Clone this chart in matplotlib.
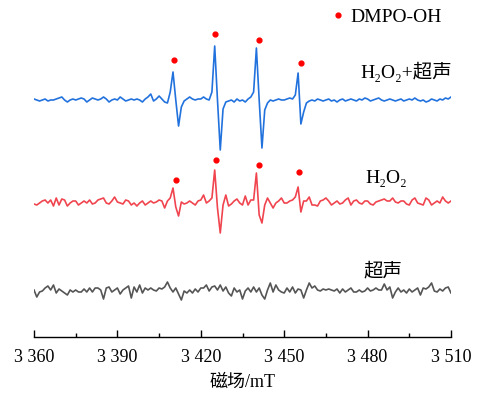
import numpy as np
import matplotlib
matplotlib.use('Agg')
import matplotlib.pyplot as plt
from matplotlib.ticker import MultipleLocator, FuncFormatter

plt.rcParams['font.family'] = ['Liberation Serif', 'DejaVu Serif', 'Noto Sans CJK SC']

# magnetic field grid (1 mT step), spectra
field = np.arange(3360, 3511)

h2o2_us = [1, 0, -1, 0, 1, -1, 0, 0, 1, 2,
           3, 0, -2, 0, 1, 0, 1, 2, 1, -2,
           0, 2, 1, 0, 1, 3, 1, -2, 0, 1,
           0, 3, 1, -1, 0, 1, 0, 1, 0, -2,
           1, 3, 6, -1, 1, 4, 1, -2, -3, 8,
           28, 0, -26, -7, -1, 1, 3, 1, 0, 1,
           1, 3, 1, 0, 8, 54, 0, -50, -9, -2,
           -1, 0, -2, 1, -1, 0, -2, 1, 3, 8,
           52, 0, -48, -10, -3, 0, -1, 0, 1, 0,
           0, 1, 2, 1, 5, 27, -24, -12, -3, -1,
           0, -1, 1, 0, -1, 0, 1, -1, 0, -2,
           0, 1, -1, 0, 1, 0, -1, 1, 0, 2,
           1, -1, 0, 1, 2, 0, -1, 0, 1, 0,
           -1, 0, 1, -1, 0, 1, 0, 2, 0, -1,
           0, -2, -1, 1, 0, -1, 1, 0, 2, 1,
           3]

h2o2 = [-1, -2, 0, 2, 3, 0, 3, -3, 5, -2,
        4, 3, -3, 0, 2, 2, -2, 0, 2, 0,
        3, -1, 0, 3, 4, 5, 0, -1, 2, 6,
        1, 0, -1, 3, 2, -2, 0, -3, 0, 2,
        -2, 0, 2, 0, 1, 3, 2, -5, 2, 5,
        15, -4, -13, 1, -1, 0, 2, 0, -2, 2,
        3, 8, 0, 2, 5, 33, -5, -30, -2, 8,
        -3, -1, 2, 4, 0, -2, 7, -2, 3, 3,
        30, -12, -20, -2, 5, 0, -5, 0, 2, 5,
        0, 0, 2, 3, 6, 16, -9, 2, 2, 6,
        -2, -2, -3, 2, 3, 5, 2, -2, 0, 2,
        -1, 0, 3, 5, -2, 2, 3, 0, -1, 2,
        2, -1, -2, 1, 2, 3, 4, 2, 2, 5,
        1, 0, 2, 2, -1, -2, 3, 5, 0, -1,
        -2, 5, 3, -2, 0, 2, 0, 6, 2, 0,
        2]

us = [1, -6, -1, 0, 3, 5, 1, 6, -2, 2,
      0, -2, -4, 1, -1, 1, -1, -1, 2, -1,
      3, -1, 3, 3, 1, -8, 3, 4, -1, 1,
      3, -3, 1, 3, 5, -7, 4, -1, 6, -2,
      3, 1, 3, 1, 0, 3, 2, 4, 9, 3,
      -1, 3, -3, -9, 0, -2, 1, -2, 2, -1,
      3, 3, 6, 0, 4, 5, 1, 6, 0, 4,
      -2, -5, 3, -1, 1, -8, 0, 3, -1, 4,
      -1, 3, -4, -8, 1, 8, -1, 6, 1, -1,
      -2, 3, -1, 4, -2, 2, 1, -7, 1, 8,
      3, 5, 1, 0, 2, 1, 2, 1, 0, 2,
      -2, 2, -1, 1, 3, -1, -1, 1, -1, 0,
      3, 0, 1, 3, 1, 1, 7, 1, 4, -7,
      -1, 3, -1, 1, -2, 2, -1, 1, 3, -4,
      3, 2, 4, 8, 0, -1, 2, 0, 3, 4,
      -2]

# vertical offsets of the stacked spectra
offsets = {'h2o2_us': 237, 'h2o2': 134, 'us': 46}

# DMPO-OH markers
dot_field_1 = [3410.5, 3425.2, 3440.8, 3456.2]
dot_height_1 = [40, 66, 60, 37]
dot_field_2 = [3411, 3425.3, 3440.8, 3455.5]
dot_height_2 = [23, 43, 38, 31]

blue = '#2272de'
red = '#f0454f'
grey = '#555555'

fig = plt.figure(figsize=(4.8, 3.98), dpi=100)
ax = fig.add_axes([34 / 480, 61 / 398, 417 / 480, 337 / 398])

ax.plot(field, np.array(h2o2_us) + offsets['h2o2_us'], color=blue, lw=1.2)
ax.plot(field, np.array(h2o2) + offsets['h2o2'], color=red, lw=1.2)
ax.plot(field, np.array(us) + offsets['us'], color=grey, lw=1.2)

ax.scatter(dot_field_1, np.array(dot_height_1) + offsets['h2o2_us'], s=12, color='red', zorder=3)
ax.scatter(dot_field_2, np.array(dot_height_2) + offsets['h2o2'], s=12, color='red', zorder=3)

# legend-like marker
ax.scatter([3469.5], [322], s=12, color='red', clip_on=False)
ax.text(3473.8, 315, 'DMPO-OH', fontsize=14, va='baseline', ha='left')

ax.text(3477.4, 259, 'H\u2082O\u2082+超声', fontsize=14, va='baseline', ha='left')
ax.text(3479.2, 154, 'H\u2082O\u2082', fontsize=14, va='baseline', ha='left')
ax.text(3478.5, 61, '超声', fontsize=14, va='baseline', ha='left')

ax.set_xlim(3360, 3510)
ax.set_ylim(0, 337)
for s in ['left', 'right', 'top']:
    ax.spines[s].set_visible(False)
ax.spines['bottom'].set_linewidth(1.0)
ax.set_yticks([])
ax.xaxis.set_major_locator(MultipleLocator(30))
ax.xaxis.set_minor_locator(MultipleLocator(15))
ax.xaxis.set_major_formatter(FuncFormatter(lambda v, p: f'{int(v) // 1000} {int(v) % 1000:03d}'))
ax.tick_params(axis='x', which='major', direction='in', length=5, width=1.0, labelsize=13, pad=9)
ax.tick_params(axis='x', which='minor', direction='in', length=3, width=1.0)
ax.set_xlabel('磁场/mT', fontsize=13, labelpad=5)
ax.patch.set_alpha(0)

fig.savefig('out.png', dpi=100)
